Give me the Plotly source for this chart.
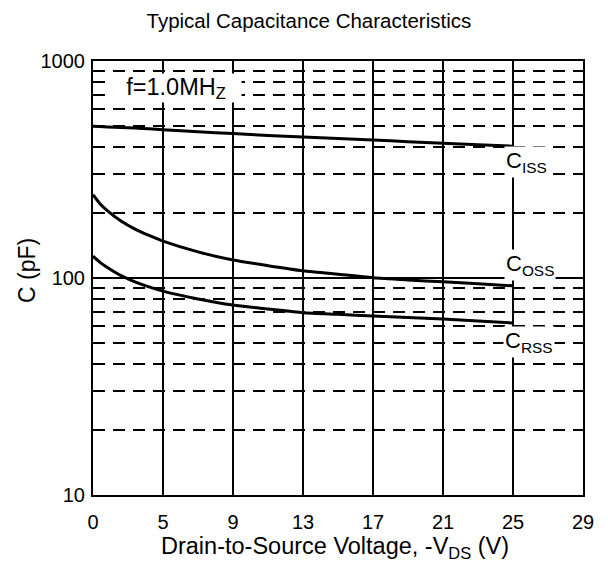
import plotly.graph_objects as go

# ---- data ----
x_tick_labels = ["0", "5", "9", "13", "17", "21", "25", "29"]
x_tick_pos = [1, 5, 9, 13, 17, 21, 25, 29]   # evenly spaced grid positions

vds = [0, 0.5, 1, 2, 3, 4, 5, 7, 9, 11, 13, 15, 17, 19, 21, 23, 25]
ciss = [500, 499, 497, 494, 491, 487, 482, 472, 463, 454, 446, 439, 432, 425, 418, 411, 405]
coss = [242, 220, 205, 183, 168, 157, 148, 132, 121, 114, 108, 104, 100.3, 98, 96, 94, 92]
crss = [126, 118, 112, 102.5, 96, 91, 87, 80, 75, 72, 69.2, 68, 66.8, 65.8, 64.7, 63.4, 62]

y_major = [10, 100, 1000]
y_minor = [20, 30, 40, 50, 60, 70, 80, 90, 200, 300, 400, 500, 600, 700, 800, 900]


def vpos(v):
    # the printed axis puts "0" one step before "5" on an even 4-unit grid
    return 1 + v * 4 / 5 if v < 5 else v


FONT = "Arial, Liberation Sans, sans-serif"

fig = go.Figure()
for name, vals in (("Ciss", ciss), ("Coss", coss), ("Crss", crss)):
    fig.add_trace(go.Scatter(
        x=[vpos(v) for v in vds], y=vals, mode="lines", name=name,
        line=dict(color="black", width=3, shape="spline", smoothing=0.6),
        showlegend=False, hoverinfo="skip",
    ))

fig.update_layout(
    width=608, height=561,
    margin=dict(l=93, r=25, t=61, b=66),
    paper_bgcolor="white", plot_bgcolor="white",
    font=dict(family=FONT, color="black"),
    title=dict(text="Typical Capacitance Characteristics",
               font=dict(size=20.5, family=FONT, color="black"),
               x=0.508, xref="container", xanchor="center",
               y=1 - 21 / 561, yref="container", yanchor="middle"),
)

fig.update_xaxes(
    range=[1, 29], tickmode="array", tickvals=x_tick_pos, ticktext=x_tick_labels,
    showgrid=True, gridcolor="black", gridwidth=2,
    showline=True, linecolor="black", linewidth=2, mirror=True,
    ticks="", ticklabelstandoff=8, tickfont=dict(size=20, family=FONT),
    zeroline=False,
)
fig.update_yaxes(
    type="log", range=[1, 3], tickmode="array", tickvals=y_major,
    ticktext=[str(v) for v in y_major],
    showgrid=True, gridcolor="black", gridwidth=1.5,
    showline=True, linecolor="black", linewidth=2, mirror=True,
    ticks="", ticklabelstandoff=2, tickfont=dict(size=20, family=FONT),
    minor=dict(tickmode="array", tickvals=y_minor, showgrid=True,
               gridcolor="black", gridwidth=2, griddash="12px,8px", ticks=""),
    zeroline=False,
)

annos = [
    dict(text="Drain-to-Source Voltage, -V<sub>DS</sub> (V)", xref="paper", yref="paper",
         x=(335 - 93) / 490, y=(495 - 547) / 434, xanchor="center", yanchor="middle",
         font=dict(size=23.5)),
    dict(text="C (pF)", xref="paper", yref="paper", x=(27 - 93) / 490, y=(495 - 271) / 434,
         textangle=-90, xanchor="center", yanchor="middle", font=dict(size=23)),
    dict(text="f=1.0MH<sub>Z</sub>", xref="paper", yref="paper",
         x=(176 - 93) / 490, y=(495 - 88) / 434, xanchor="center", yanchor="middle",
         font=dict(size=23.5), bgcolor="white", borderpad=0, width=130, height=28),
    dict(text="C<sub>ISS</sub>", xref="x", yref="y", x=25, y=2.535,
         xanchor="left", yanchor="middle", xshift=-9, font=dict(size=22),
         bgcolor="white", borderpad=1),
    dict(text="C<sub>OSS</sub>", xref="x", yref="y", x=25, y=2.06,
         xanchor="left", yanchor="middle", xshift=-9, font=dict(size=22),
         bgcolor="white", borderpad=1),
    dict(text="C<sub>RSS</sub>", xref="x", yref="y", x=25, y=1.705,
         xanchor="left", yanchor="middle", xshift=-10, font=dict(size=22),
         bgcolor="white", borderpad=1),
]
for a in annos:
    a.setdefault("showarrow", False)
    a["font"] = dict(family=FONT, color="black", size=a["font"]["size"])
    fig.add_annotation(**a)

fig.write_html("out.html", config={"displayModeBar": False},
               post_script="document.body.style.margin='0';document.body.style.padding='0';")
